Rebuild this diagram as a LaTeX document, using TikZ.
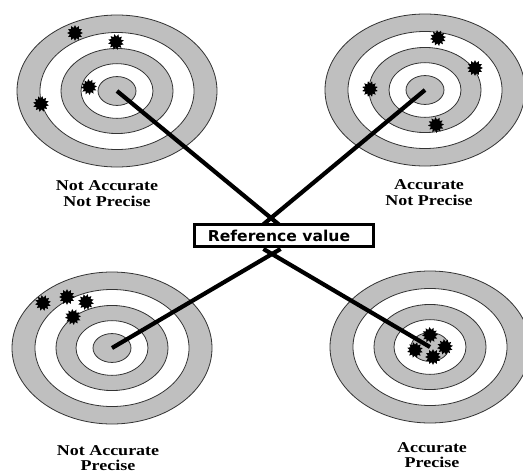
\documentclass[tikz,border=0pt]{standalone}
\usepackage{fontspec}
\newfontfamily\capfont{Liberation Serif}
\newfontfamily\boxfont{DejaVu Sans}
\usetikzlibrary{shapes.geometric,calc}

\tikzset{
	ring/.style={draw=black!80, line width=0.8pt},
	hit/.style={star, star points=12, star point ratio=1.5, fill=black, minimum size=16pt, inner sep=0pt},
	caption/.style={font=\capfont\bfseries\fontsize{15}{15.5}\selectfont, align=center, xscale=1.2},
	pointer/.style={line width=4.2pt, black},
	refbox/.style={draw, line width=3pt, fill=white, minimum width=179pt, minimum height=22pt, inner sep=0pt,
			font=\boxfont\bfseries\fontsize{15}{16}\selectfont},
}

\begin{document}
\begin{tikzpicture}[x=1pt, y=-1pt]
	\fill[white] (0,0) rectangle (523,474);
	\useasboundingbox (0,0) rectangle (523,474);

	% targets
	\foreach \cx/\cy/\name in {117/91/tl, 425/90/tr, 112/348/bl, 430/347/br} {
			\foreach \r/\c in {100/gray!50, 77/white, 56/gray!50, 36/white, 19/gray!50}
				\filldraw[ring, fill=\c] (\cx,\cy) ellipse [x radius=\r, y radius=0.76*\r];
			\coordinate (\name) at (\cx,\cy);
		}

	% hits
	\foreach \x/\y/\a [count=\i] in {75/33/0, 116/42/12, 89/87/5, 41/104/20,
				438/38/8, 475/68/0, 370/89/15, 436/125/4,
				43/303/10, 67/297/0, 86/302/18, 73/317/6,
				430/335/3, 415/350/14, 445/347/9, 433/357/0}
		\node[hit, rotate=\a] (hit\i) at (\x,\y) {};

	% captions
	\node[caption] (captl) at (107,193.5) {Not Accurate\\Not Precise};
	\node[caption] (captr) at (429,192.5) {Accurate\\Not Precise};
	\node[caption] (capbl) at (108,458) {Not Accurate\\Precise};
	\node[caption] (capbr) at (432,455) {Accurate\\Precise};

	% reference box and pointers
	\path (284,235.5) node[refbox, draw=none, fill=none] (ref) {};
	\coordinate (xt) at ([xshift=-13pt, yshift=5pt]ref.north);
	\coordinate (xb) at ([xshift=-12pt, yshift=-6pt]ref.south);
	\draw[pointer] (tl) -- ($(xt)!-10pt!(tl)$);
	\draw[pointer] (tr) -- ($(xt)!-10pt!(tr)$);
	\draw[pointer] (bl) -- ($(xb)!-10pt!(bl)$);
	\draw[pointer] (br) -- ($(xb)!-10pt!(br)$);
	\node[refbox] (refval) at (ref) {\hspace{-10pt}\scalebox{1.04}[1]{Reference value}};
\end{tikzpicture}
\end{document}
